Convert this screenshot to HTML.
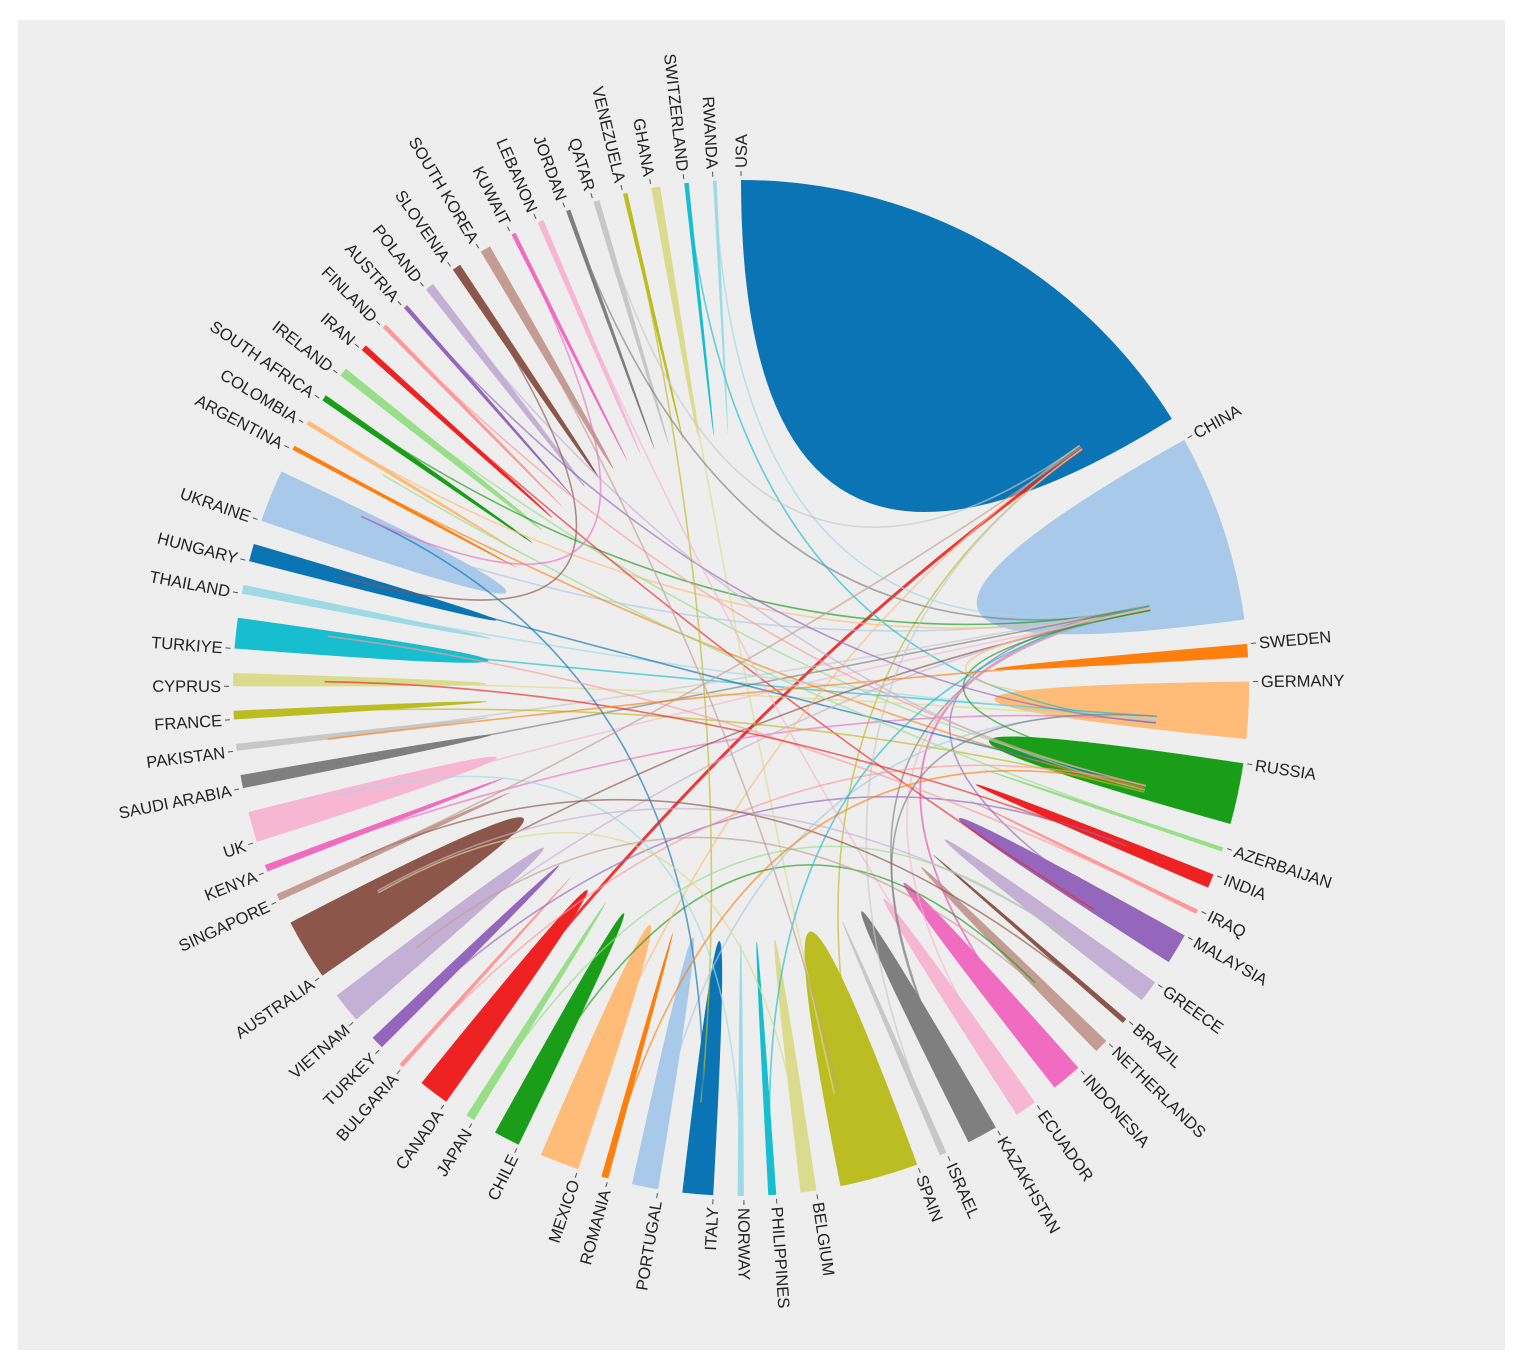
<!DOCTYPE html>
<html><head><meta charset="utf-8"><style>
html,body{margin:0;padding:0;background:#fff;}
svg text{font-family:"Liberation Sans",sans-serif;font-size:16.5px;fill:#222;}
</style></head><body>
<svg id="chart" width="1529" height="1367" viewBox="0 0 1529 1367" xmlns="http://www.w3.org/2000/svg">
<rect x="18" y="20" width="1487" height="1330" fill="#eeeeee"/>
<g id="ribbons"></g>
<g id="links"></g>
<g id="labels"></g>
</svg>
<script>
const countries=["USA","CHINA","SWEDEN","GERMANY","RUSSIA","AZERBAIJAN","INDIA","IRAQ","MALAYSIA","GREECE","BRAZIL","NETHERLANDS","INDONESIA","ECUADOR","KAZAKHSTAN","ISRAEL","SPAIN","BELGIUM","PHILIPPINES","NORWAY","ITALY","PORTUGAL","ROMANIA","MEXICO","CHILE","JAPAN","CANADA","BULGARIA","TURKEY","VIETNAM","AUSTRALIA","SINGAPORE","KENYA","UK","SAUDI ARABIA","PAKISTAN","FRANCE","CYPRUS","TURKIYE","THAILAND","HUNGARY","UKRAINE","ARGENTINA","COLOMBIA","SOUTH AFRICA","IRELAND","IRAN","FINLAND","AUSTRIA","POLAND","SLOVENIA","SOUTH KOREA","KUWAIT","LEBANON","JORDAN","QATAR","VENEZUELA","GHANA","SWITZERLAND","RWANDA"];
const values=[58,21.5,1.5,6.5,7,0.5,1.6,0.5,3.5,2.5,0.6,1.6,3.5,2.5,3.5,0.8,9,1.8,0.9,0.7,3.5,3,0.8,4.5,3,1,3.5,0.5,1.5,3.5,7,0.8,0.8,3.5,1.5,0.8,1,1.5,3.5,1,2,6,0.5,0.5,0.7,1,0.7,0.5,0.5,1,1,1.2,0.5,0.7,0.5,0.7,0.5,1,0.5,0.4];
const palette=["#0b74b5","#a9c9ea","#ff7f0e","#ffbb78","#1a9e1a","#98df8a","#ee2222","#ff9896","#9467bd","#c5b0d5","#8c564b","#c49c94","#f06cc0","#f7b6d2","#7f7f7f","#c7c7c7","#bcbd22","#dbdb8d","#17becf","#9edae5"];
const linkSources=[26,12,12,8,16,14,41,38,43,42,44,45,46,57,56,59,58,54,55,53,33,32,34,35,36,37,39,40,30,29,28,27,25,24,23,21,20,19,18,17,15,13,9,11,10,7,6,5,4,3,2,47,48,49,50,51,52,31,22,14];
const linkTargets=[0,1,1,1,0,1,1,3,1,4,1,4,8,16,20,1,3,1,0,13,1,3,1,1,4,3,3,4,1,1,6,4,9,11,0,3,41,33,1,30,0,1,30,29,31,38,37,43,1,1,35,4,3,4,40,16,41,0,4,3];

const cx=741,cy=688,R=508;
const svgNS="http://www.w3.org/2000/svg";
const total=values.reduce((a,b)=>a+b,0);
const gap=(360-total)/values.length;
function pt(a,r){const t=a*Math.PI/180;return [cx+r*Math.sin(t),cy-r*Math.cos(t)];}
const starts=[],ends=[];
let acc=0;
values.forEach((v,i)=>{starts.push(acc);ends.push(acc+v);acc+=v+gap;});
const ribbons=document.getElementById('ribbons');
const links=document.getElementById('links');
const labels=document.getElementById('labels');
countries.forEach((c,i)=>{
  const a0=starts[i],a1=ends[i];
  const p0=pt(a0,R),p1=pt(a1,R);
  const large=(a1-a0)>180?1:0;
  const p=document.createElementNS(svgNS,'path');
  p.setAttribute('d',`M${p0[0]},${p0[1]} A${R},${R} 0 ${large} 1 ${p1[0]},${p1[1]} Q${cx},${cy} ${p0[0]},${p0[1]} Z`);
  p.setAttribute('fill',palette[i%20]);
  
  
  ribbons.appendChild(p);
  const ang=a0;
  const g=document.createElementNS(svgNS,'g');
  
  
  const left=ang>180;
  g.setAttribute('transform',`rotate(${ang-90} ${cx} ${cy}) translate(${cx+R+4} ${cy})`);
  const tick=document.createElementNS(svgNS,'line');
  tick.setAttribute('x1',0);tick.setAttribute('y1',0);tick.setAttribute('x2',5);tick.setAttribute('y2',0);
  tick.setAttribute('stroke','#555');tick.setAttribute('stroke-width','1');
  g.appendChild(tick);
  const t=document.createElementNS(svgNS,'text');
  t.textContent=c;
  t.setAttribute('dy','0.35em');
  if(left){t.setAttribute('transform','translate(8 0) rotate(180)');t.setAttribute('text-anchor','end');}
  else{t.setAttribute('x','8');}
  g.appendChild(t);
  labels.appendChild(g);
});
linkSources.forEach((s,k)=>{
  const tg=linkTargets[k];
  const as=(starts[s]+ends[s])/2;
  const at=ends[tg]-Math.min(3,(ends[tg]-starts[tg])*0.15)-(k%4)*0.3;
  const ps=pt(as,R*0.98),pe=pt(at,R*0.82);
  const p=document.createElementNS(svgNS,'path');
  p.setAttribute('d',`M${ps[0]},${ps[1]} Q${cx},${cy} ${pe[0]},${pe[1]}`);
  p.setAttribute('fill','none');
  p.setAttribute('stroke',palette[s%20]);
  p.setAttribute('stroke-width',s===26?3:1.6);
  p.setAttribute('opacity',s===26?0.9:0.65);
  
  
  links.appendChild(p);
});
</script>
</body></html>
